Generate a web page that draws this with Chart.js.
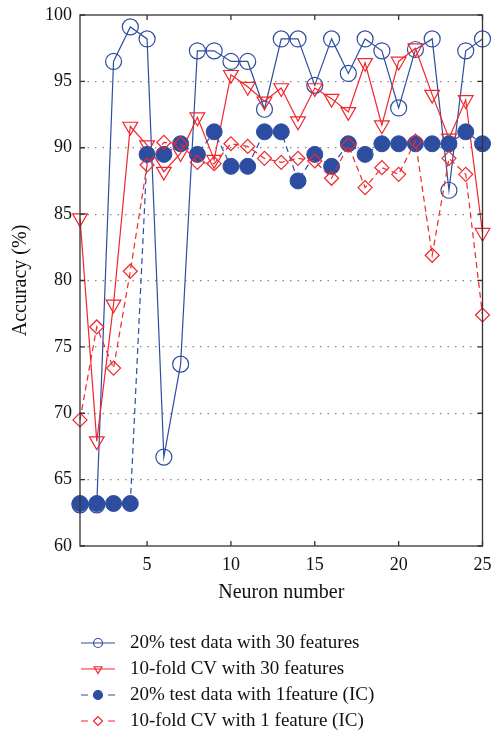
<!DOCTYPE html>
<html>
<head>
<meta charset="utf-8">
<title>Accuracy vs neuron number</title>
<script src="https://cdn.jsdelivr.net/npm/chart.js@4/dist/chart.umd.min.js"></script>
<style>
    html, body { margin: 0; padding: 0; background: #fff; }
    #wrap { width: 494px; height: 732px; position: relative; }
</style>
</head>
<body>
<div id="wrap"><canvas id="accChart" width="494" height="732"></canvas></div>
<script>
// chart data
const neurons = [1, 2, 3, 4, 5, 6, 7, 8, 9, 10, 11, 12, 13, 14, 15, 16, 17, 18, 19, 20, 21, 22, 23, 24, 25];
const test30 = [63.1, 63.1, 96.5, 99.1, 98.2, 66.7, 73.7, 97.3, 97.3, 96.5, 96.5, 92.9, 98.2, 98.2, 94.7, 98.2, 95.6, 98.2, 97.3, 93.0, 97.4, 98.2, 86.8, 97.3, 98.2];
const cv30 = [84.7, 67.9, 78.2, 91.6, 90.2, 88.2, 89.6, 92.3, 89.1, 95.5, 94.6, 93.5, 94.5, 92.0, 94.5, 93.7, 92.7, 96.4, 91.7, 96.5, 97.5, 94.0, 90.7, 93.6, 83.6];
const test1 = [63.2, 63.2, 63.2, 63.2, 89.5, 89.5, 90.3, 89.5, 91.2, 88.6, 88.6, 91.2, 91.2, 87.5, 89.5, 88.6, 90.3, 89.5, 90.3, 90.3, 90.3, 90.3, 90.3, 91.2, 90.3];
const cv1 = [69.5, 76.5, 73.4, 80.7, 88.7, 90.4, 90.3, 88.9, 88.8, 90.3, 90.1, 89.2, 88.9, 89.2, 89.0, 87.7, 90.2, 87.0, 88.5, 88.0, 90.5, 81.9, 89.2, 88.0, 77.4];
const seriesNames = [
    '20% test data with 30 features',
    '10-fold CV with 30 features',
    '20% test data with 1feature (IC)',
    '10-fold CV with 1 feature (IC)'
];
const xTickValues = [5, 10, 15, 20, 25];
const yTickValues = [60, 65, 70, 75, 80, 85, 90, 95, 100];

const BLUE = '#2d4ea0';
const RED = '#f2262b';
const AXIS = '#333333';
const FONT = "'Liberation Serif', 'DejaVu Serif', serif";

function toPoints(values) {
    return values.map((v, i) => ({ x: neurons[i], y: v }));
}

const datasets = [
    {
        label: seriesNames[0], data: toPoints(test30),
        borderColor: BLUE, backgroundColor: 'rgba(0,0,0,0)',
        pointStyle: 'circle', pointRadius: 8, pointBorderWidth: 1.2,
        pointBackgroundColor: 'rgba(0,0,0,0)', pointBorderColor: BLUE,
        borderWidth: 1.2, clip: false, order: 4
    },
    {
        label: seriesNames[1], data: toPoints(cv30),
        borderColor: RED, backgroundColor: 'rgba(0,0,0,0)',
        pointStyle: 'triangle', pointRotation: 180, pointRadius: 8.5, pointBorderWidth: 1.2,
        pointBackgroundColor: 'rgba(0,0,0,0)', pointBorderColor: RED,
        borderWidth: 1.2, clip: false, order: 3
    },
    {
        label: seriesNames[2], data: toPoints(test1),
        borderColor: BLUE, backgroundColor: BLUE,
        pointStyle: 'circle', pointRadius: 8, pointBorderWidth: 1,
        pointBackgroundColor: BLUE, pointBorderColor: BLUE,
        borderWidth: 1.2, borderDash: [6, 4], clip: false, order: 2
    },
    {
        label: seriesNames[3], data: toPoints(cv1),
        borderColor: RED, backgroundColor: 'rgba(0,0,0,0)',
        pointStyle: 'rectRot', pointRadius: 7, pointBorderWidth: 1.2,
        pointBackgroundColor: 'rgba(0,0,0,0)', pointBorderColor: RED,
        borderWidth: 1.2, borderDash: [6, 4], clip: false, order: 1
    }
];

function drawMarker(ctx, ds, x, y) {
    ctx.save();
    ctx.lineWidth = 1.2;
    ctx.strokeStyle = ds.pointBorderColor;
    ctx.fillStyle = ds.pointBackgroundColor;
    Chart.helpers.drawPoint(ctx, {
        pointStyle: ds.pointStyle,
        rotation: ds.pointRotation || 0,
        radius: 4.5,
        borderWidth: 1.2
    }, x, y);
    ctx.restore();
}

// frame, inward tick marks and the legend underneath
const framePlugin = {
    id: 'frame',
    afterDraw(chart) {
        const ctx = chart.ctx;
        const area = chart.chartArea;
        const xs = chart.scales.x;
        const ys = chart.scales.y;
        ctx.save();
        ctx.strokeStyle = AXIS;
        ctx.lineWidth = 1.3;
        ctx.setLineDash([]);
        ctx.strokeRect(area.left, area.top, area.right - area.left, area.bottom - area.top);

        const tick = 5;
        ctx.beginPath();
        xTickValues.forEach(v => {
            const px = xs.getPixelForValue(v);
            ctx.moveTo(px, area.bottom);
            ctx.lineTo(px, area.bottom - tick);
            ctx.moveTo(px, area.top);
            ctx.lineTo(px, area.top + tick);
        });
        yTickValues.forEach(v => {
            const py = ys.getPixelForValue(v);
            ctx.moveTo(area.left, py);
            ctx.lineTo(area.left + tick, py);
            ctx.moveTo(area.right, py);
            ctx.lineTo(area.right - tick, py);
        });
        ctx.stroke();

        // legend
        const rows = [643, 669, 695, 721];
        chart.data.datasets.forEach((ds, i) => {
            const y = rows[i];
            ctx.strokeStyle = ds.borderColor;
            ctx.lineWidth = 1.2;
            ctx.beginPath();
            if (ds.borderDash) {
                ctx.moveTo(81, y); ctx.lineTo(88, y);
                ctx.moveTo(108, y); ctx.lineTo(115, y);
            } else {
                ctx.moveTo(81, y); ctx.lineTo(115, y);
            }
            ctx.stroke();
            drawMarker(ctx, ds, 98, y);
            ctx.fillStyle = '#111';
            ctx.font = '19px ' + FONT;
            ctx.textAlign = 'left';
            ctx.textBaseline = 'middle';
            ctx.fillText(ds.label, 130, y);
        });
        ctx.restore();
    }
};

const chart = new Chart(document.getElementById('accChart'), {
    type: 'line',
    data: { datasets: datasets },
    options: {
        responsive: false,
        animation: false,
        events: [],
        layout: { padding: { left: 0, top: 15, right: 11.5, bottom: 126 } },
        plugins: {
            legend: { display: false },
            tooltip: { enabled: false }
        },
        scales: {
            x: {
                type: 'linear',
                min: 1,
                max: 25,
                afterBuildTicks: scale => { scale.ticks = xTickValues.map(v => ({ value: v })); },
                afterFit: scale => {
                    scale.height = 60;
                    scale.paddingLeft = 0;
                    scale.paddingRight = 0;
                },
                grid: { display: false, drawTicks: false },
                border: { display: false },
                ticks: { color: '#111', font: { family: FONT, size: 18 }, padding: 8, maxRotation: 0 },
                title: {
                    display: true, text: 'Neuron number', color: '#111',
                    font: { family: FONT, size: 20 }, padding: { top: 0, bottom: 1 }
                }
            },
            y: {
                min: 60,
                max: 100,
                afterBuildTicks: scale => { scale.ticks = yTickValues.map(v => ({ value: v })); },
                afterFit: scale => {
                    scale.width = 80;
                    scale.paddingTop = 0;
                    scale.paddingBottom = 0;
                },
                grid: {
                    drawTicks: false,
                    color: c => (c.tick && (c.tick.value === 60 || c.tick.value === 100)) ? 'rgba(0,0,0,0)' : '#888',
                    lineWidth: 1.2
                },
                border: { display: false, dash: [1.5, 6] },
                ticks: { color: '#111', font: { family: FONT, size: 18 }, padding: 8 },
                title: {
                    display: true, text: 'Accuracy (%)', color: '#111',
                    font: { family: FONT, size: 20 }, padding: { top: 9, bottom: 0 }
                }
            }
        }
    },
    plugins: [framePlugin]
});
</script>
</body>
</html>
